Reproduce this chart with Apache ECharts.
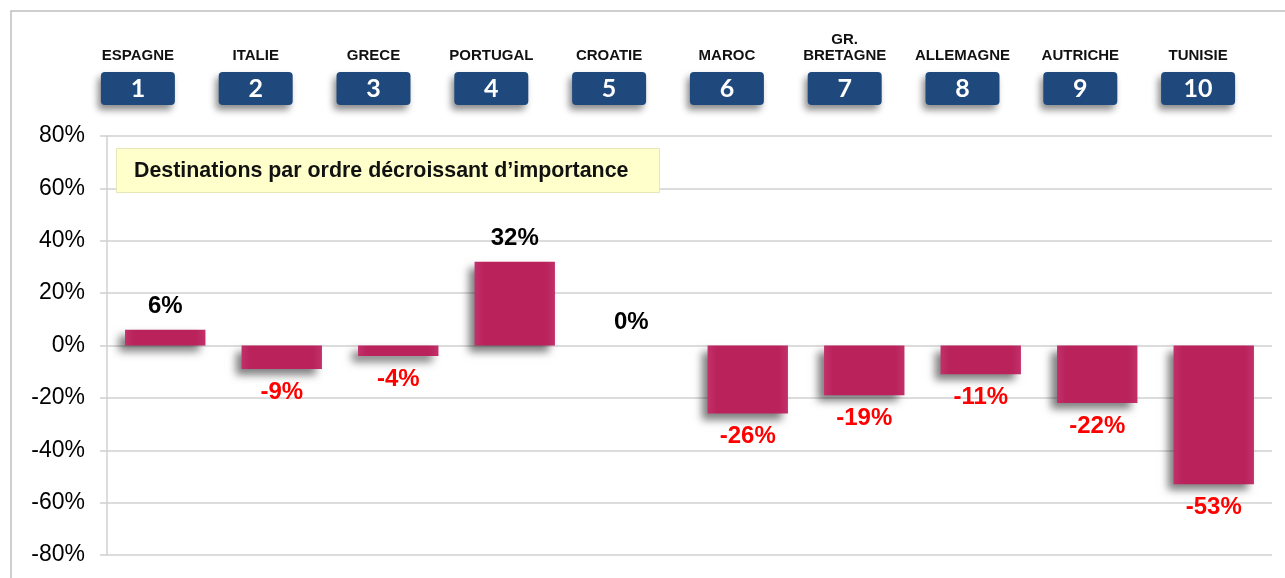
<!DOCTYPE html>
<html>
<head>
<meta charset="utf-8">
<script src="https://cdn.jsdelivr.net/npm/echarts@6/dist/echarts.min.js"></script>
<style>html,body{margin:0;padding:0;background:#fff;}#c{width:1285px;height:578px;}</style>
</head>
<body>
<div id="c"></div>
<script>
const categories = ['ESPAGNE','ITALIE','GRECE','PORTUGAL','CROATIE','MAROC','GR.\nBRETAGNE','ALLEMAGNE','AUTRICHE','TUNISIE'];
const ranks = ['1','2','3','4','5','6','7','8','9','10'];
const values = [6, -9, -4, 32, 0, -26, -19, -11, -22, -53];
const yTicks = [-80, -60, -40, -20, 0, 20, 40, 60, 80];
const boxTitle = 'Destinations par ordre décroissant d\u2019importance';

const chart = echarts.init(document.getElementById('c'));
const F = 'Liberation Sans, Arial, sans-serif';

const barData = values.map(v => ({
  value: v,
  label: {
    position: v < 0 ? 'bottom' : 'top',
    color: v < 0 ? '#FF0000' : '#000000'
  }
}));

const barColor = {
  type: 'linear', x: 0, y: 0, x2: 1, y2: 0,
  colorStops: [
    { offset: 0, color: '#C2306A' },
    { offset: 0.12, color: '#B9225B' },
    { offset: 0.88, color: '#B9225B' },
    { offset: 1, color: '#C2306A' }
  ]
};

chart.setOption({
  animation: false,
  backgroundColor: '#ffffff',
  title: {
    text: boxTitle,
    left: 116, top: 148,
    backgroundColor: '#FFFFCC',
    borderColor: '#E6E6B8',
    borderWidth: 1,
    padding: [10, 31, 9, 18],
    textStyle: { fontFamily: F, fontSize: 21.4, lineHeight: 26, fontWeight: 'bold', color: '#111' }
  },
  graphic: [{
    type: 'rect', silent: true, z: -1,
    shape: { x: 11, y: 11, width: 1300, height: 600 },
    style: { fill: 'none', stroke: '#BFBFBF', lineWidth: 1.5 }
  }],
  grid: [
    { left: 107, right: 13, top: 136, bottom: 23, containLabel: false },
    { left: 79, right: 28, top: 110, height: 2, containLabel: false }
  ],
  xAxis: [{
    type: 'category', gridIndex: 0, data: categories,
    axisLine: { show: false }, axisTick: { show: false }, axisLabel: { show: false },
    splitLine: { show: false }
  }, {
    type: 'category', gridIndex: 1, data: categories, position: 'top',
    axisLine: { show: false }, axisTick: { show: false }, splitLine: { show: false },
    axisLabel: {
      interval: 0, margin: 5,
      formatter: function (v, i) {
        const lines = v.split('\n').map(s => '{n|' + s + '}').join('\n');
        return lines + '\n{g| }\n{b|' + ranks[i] + '}';
      },
      rich: {
        n: { fontFamily: F, fontSize: 15, fontWeight: 'bold', color: '#111', lineHeight: 16, align: 'center' },
        g: { fontSize: 2, lineHeight: 8, height: 8 },
        b: {
          fontFamily: 'Lato, Open Sans, sans-serif', fontSize: 25, fontWeight: 'bold', color: '#ffffff',
          backgroundColor: '#1F497D', borderRadius: 4, width: 74, height: 33, lineHeight: 33,
          align: 'center', verticalAlign: 'middle',
          shadowColor: 'rgba(0,0,0,0.45)', shadowBlur: 7, shadowOffsetX: -3, shadowOffsetY: 5
        }
      }
    }
  }],
  yAxis: [{
    type: 'value', gridIndex: 0, min: yTicks[0], max: yTicks[yTicks.length - 1], interval: 20,
    axisLine: { show: true, lineStyle: { color: '#D0D0D0', width: 1.5 } },
    axisTick: { show: true, length: 7, lineStyle: { color: '#D0D0D0', width: 1.5 } },
    splitLine: { lineStyle: { color: '#D0D0D0', width: 1.5 } },
    axisLabel: { margin: 22, fontFamily: F, fontSize: 23, color: '#000', formatter: v => v + '%' }
  }, {
    type: 'value', gridIndex: 1, show: false
  }],
  series: [{
    type: 'bar', xAxisIndex: 0, yAxisIndex: 0,
    data: barData,
    barCategoryGap: '31%',
    itemStyle: {
      color: barColor,
      shadowColor: 'rgba(0,0,0,0.5)', shadowBlur: 8, shadowOffsetX: -6, shadowOffsetY: 6
    },
    label: {
      show: true, distance: 11,
      fontFamily: F, fontSize: 24, fontWeight: 'bold',
      formatter: p => p.value + '%'
    }
  }]
});
</script>
</body>
</html>
